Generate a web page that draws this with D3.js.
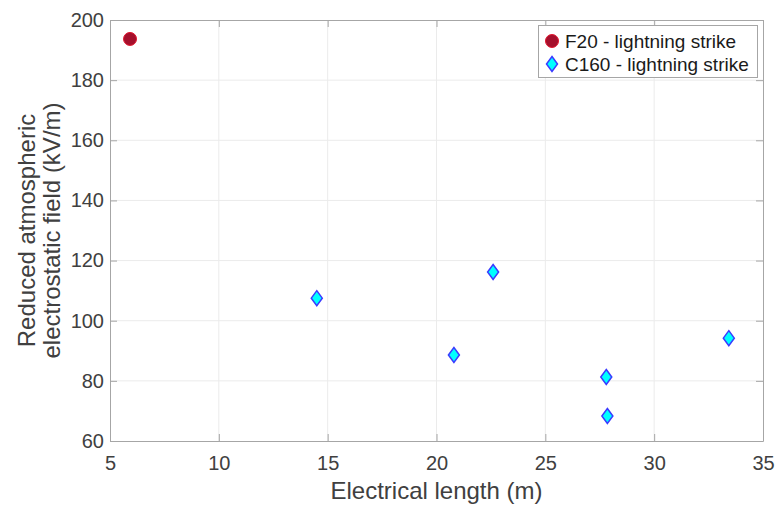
<!DOCTYPE html>
<html><head><meta charset="utf-8">
<script src="https://cdn.jsdelivr.net/npm/d3@7"></script>
<style>body{margin:0;background:#fff;} text{font-family:"Liberation Sans",Arial,sans-serif;}</style>
</head><body>
<svg id="c" width="776" height="505"></svg>
<script>
const f20X = [5.92];
const f20Y = [193.7];
const c160X = [14.5, 20.8, 22.6, 27.8, 27.85, 33.43];
const c160Y = [107.5, 88.6, 116.2, 81.3, 68.3, 94.2];
const xTicks = [5, 10, 15, 20, 25, 30, 35];
const yTicks = [60, 80, 100, 120, 140, 160, 180, 200];
const legendLabels = ["F20 - lightning strike", "C160 - lightning strike"];

const svg = d3.select("#c");
const L = 110, R = 763, T = 20, B = 441;
const x = d3.scaleLinear().domain([5, 35]).range([L, R]);
const y = d3.scaleLinear().domain([60, 200]).range([B, T]);

// grid
const g = svg.append("g");
g.selectAll(".gx").data(xTicks.slice(1, -1)).enter().append("line")
  .attr("x1", d => x(d)).attr("x2", d => x(d)).attr("y1", T).attr("y2", B)
  .attr("stroke", "#ebebeb").attr("stroke-width", 1);
g.selectAll(".gy").data(yTicks.slice(1, -1)).enter().append("line")
  .attr("y1", d => y(d)).attr("y2", d => y(d)).attr("x1", L).attr("x2", R)
  .attr("stroke", "#ebebeb").attr("stroke-width", 1);

const axColor = "#a6a6a6", txtColor = "#404040";
function styleAxis(sel) {
  sel.select(".domain").attr("stroke", axColor);
  sel.selectAll(".tick line").attr("stroke", axColor);
  sel.selectAll(".tick text").attr("fill", txtColor).style("font-size", "20px")
    .style("font-family", "'Liberation Sans', Arial, sans-serif");
}
const xa = svg.append("g").attr("transform", `translate(0,${B})`)
  .call(d3.axisBottom(x).tickValues(xTicks).tickSizeInner(-7).tickSizeOuter(0).tickPadding(15));
styleAxis(xa);
const xt = svg.append("g").attr("transform", `translate(0,${T})`)
  .call(d3.axisTop(x).tickValues(xTicks).tickSizeInner(-7).tickSizeOuter(0).tickFormat(""));
styleAxis(xt);
const ya = svg.append("g").attr("transform", `translate(${L},0)`)
  .call(d3.axisLeft(y).tickValues(yTicks).tickSizeInner(-7).tickSizeOuter(0).tickPadding(6));
styleAxis(ya);
const yr = svg.append("g").attr("transform", `translate(${R},0)`)
  .call(d3.axisRight(y).tickValues(yTicks).tickSizeInner(-7).tickSizeOuter(0).tickFormat(""));
styleAxis(yr);

// labels
svg.append("text").attr("x", (L + R) / 2).attr("y", 499).attr("text-anchor", "middle")
  .attr("fill", txtColor).style("font-size", "24px").text("Electrical length (m)");
const cy = (T + B) / 2;
svg.append("text").attr("transform", `translate(35,${cy}) rotate(-90)`).attr("text-anchor", "middle")
  .attr("fill", txtColor).style("font-size", "24px").text("Reduced atmospheric");
svg.append("text").attr("transform", `translate(60,${cy}) rotate(-90)`).attr("text-anchor", "middle")
  .attr("fill", txtColor).style("font-size", "24px").text("electrostatic field (kV/m)");

// markers
const diamond = "M0,-7.5L5.5,0L0,7.5L-5.5,0Z";
svg.selectAll(".f20").data(f20X).enter().append("circle")
  .attr("cx", d => x(d)).attr("cy", (d, i) => y(f20Y[i])).attr("r", 6.5)
  .attr("fill", "#a5102c").attr("stroke", "#e2172f").attr("stroke-width", 1);
svg.selectAll(".c160").data(c160X).enter().append("path")
  .attr("d", diamond).attr("transform", (d, i) => `translate(${x(d)},${y(c160Y[i])})`)
  .attr("fill", "#00ffff").attr("stroke", "#3a3aff").attr("stroke-width", 1.5);

// legend
const lg = svg.append("g");
lg.append("rect").attr("x", 538.5).attr("y", 25.5).attr("width", 219).attr("height", 52)
  .attr("fill", "#fff").attr("stroke", "#a6a6a6").attr("stroke-width", 1);
lg.append("circle").attr("cx", 552).attr("cy", 41).attr("r", 6.5)
  .attr("fill", "#a5102c").attr("stroke", "#e2172f").attr("stroke-width", 1);
lg.append("path").attr("d", diamond).attr("transform", "translate(552,64)")
  .attr("fill", "#00ffff").attr("stroke", "#3a3aff").attr("stroke-width", 1.5);
lg.selectAll(".lt").data(legendLabels).enter().append("text")
  .attr("x", 565).attr("y", (d, i) => 41 + i * 23).attr("dy", "0.35em")
  .attr("fill", "#1a1a1a").style("font-size", "19px").text(d => d);
</script>
</body></html>
